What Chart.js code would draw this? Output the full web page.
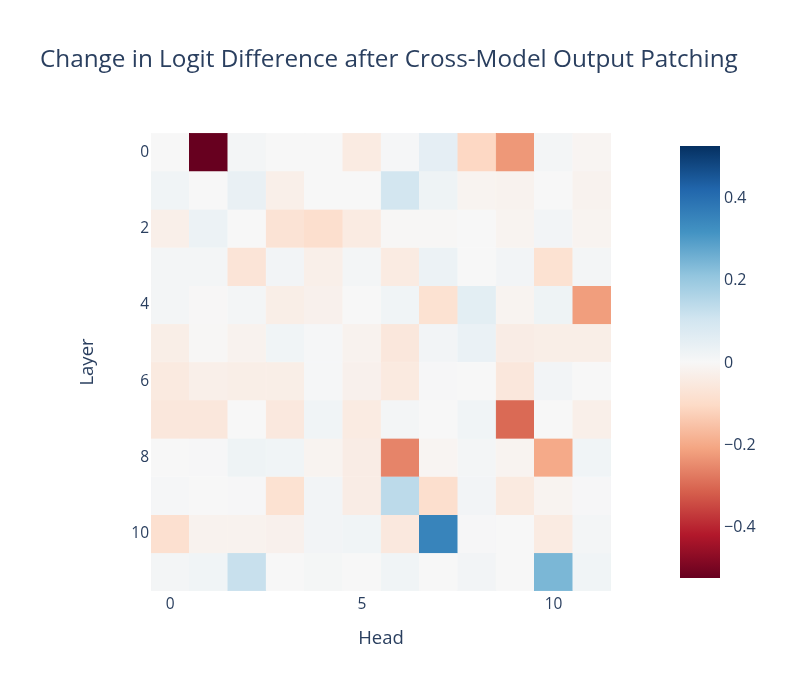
<!DOCTYPE html>
<html>
<head>
<meta charset="utf-8">
<script src="https://cdn.jsdelivr.net/npm/chart.js@4.4.1/dist/chart.umd.min.js"></script>
<style>
  html, body { margin: 0; padding: 0; background: #fff; }
  #wrap { width: 797px; height: 698px; position: relative; }
</style>
</head>
<body>
<div id="wrap"><canvas id="c" width="797" height="698"></canvas></div>
<script>
// ---- data ----
const chartTitle = "Change in Logit Difference after Cross-Model Output Patching";
const heads = [0,1,2,3,4,5,6,7,8,9,10,11];
const layers = [0,1,2,3,4,5,6,7,8,9,10,11];
const layer0  = [0.000, -0.525, 0.010, 0.000, 0.000, -0.045, 0.005, 0.050, -0.110, -0.230, 0.010, -0.010];
const layer1  = [0.020, 0.000, 0.040, -0.030, 0.000, 0.000, 0.100, 0.025, -0.015, -0.020, 0.000, -0.020];
const layer2  = [-0.030, 0.030, 0.000, -0.075, -0.090, -0.045, -0.005, -0.005, 0.000, -0.015, 0.015, -0.015];
const layer3  = [0.010, 0.010, -0.070, 0.015, -0.030, 0.010, -0.045, 0.030, 0.000, 0.015, -0.080, 0.010];
const layer4  = [0.010, -0.003, 0.010, -0.035, -0.025, 0.000, 0.020, -0.080, 0.055, -0.015, 0.025, -0.220];
const layer5  = [-0.035, -0.005, -0.020, 0.020, 0.005, -0.020, -0.060, 0.015, 0.035, -0.040, -0.035, -0.035];
const layer6  = [-0.050, -0.030, -0.035, -0.035, 0.005, -0.025, -0.050, 0.003, 0.000, -0.060, 0.015, 0.000];
const layer7  = [-0.060, -0.060, 0.000, -0.055, 0.020, -0.045, 0.010, 0.000, 0.020, -0.300, 0.000, -0.030];
const layer8  = [0.000, 0.003, 0.025, 0.020, -0.015, -0.040, -0.260, -0.010, 0.010, -0.015, -0.200, 0.020];
const layer9  = [0.005, 0.000, 0.003, -0.080, 0.015, -0.040, 0.140, -0.090, 0.015, -0.050, -0.015, 0.003];
const layer10 = [-0.085, -0.020, -0.020, -0.025, 0.015, 0.020, -0.055, 0.350, 0.003, 0.000, -0.045, 0.010];
const layer11 = [0.010, 0.020, 0.120, 0.000, 0.008, 0.000, 0.020, 0.000, 0.015, 0.000, 0.240, 0.020];
const layerRows = [layer0, layer1, layer2, layer3, layer4, layer5, layer6, layer7, layer8, layer9, layer10, layer11];
const zMin = -0.525, zMax = 0.525;
const colorbarTicks = [0.4, 0.2, 0, -0.2, -0.4];
const xTickLabels = ["0", "5", "10"];
const yTickValues = [0, 2, 4, 6, 8, 10];

// ---- colour scale (RdBu) ----
const rdbu = [[103,0,31],[178,24,43],[214,96,77],[244,165,130],[253,219,199],[247,247,247],
              [209,229,240],[146,197,222],[67,147,195],[33,102,172],[5,48,97]];
function colorFor(v) {
  let t = (v - zMin) / (zMax - zMin);
  t = Math.max(0, Math.min(1, t));
  const p = t * (rdbu.length - 1);
  const i = Math.min(rdbu.length - 2, Math.floor(p));
  const f = p - i;
  const a = rdbu[i], b = rdbu[i + 1];
  return `rgb(${Math.round(a[0]+(b[0]-a[0])*f)},${Math.round(a[1]+(b[1]-a[1])*f)},${Math.round(a[2]+(b[2]-a[2])*f)})`;
}

const FONT = "'Open Sans', 'Noto Sans', sans-serif";
const TXT = "#2a3f5f";

const datasets = layerRows.map((row, li) => ({
  label: "Layer " + layers[li],
  data: heads.map(() => 1),
  backgroundColor: row.map(colorFor),
  borderColor: row.map(colorFor),
  borderWidth: 0.5,
  borderSkipped: false,
  barPercentage: 1.0,
  categoryPercentage: 1.0,
  stack: "s"
}));

const CB = { left: 680, right: 720, top: 146, bottom: 578 };

const decorPlugin = {
  id: "decor",
  afterDraw(chart) {
    const ctx = chart.ctx;
    ctx.save();
    // title
    ctx.fillStyle = TXT;
    ctx.textBaseline = "alphabetic";
    ctx.textAlign = "left";
    ctx.font = "24.3px " + FONT;
    ctx.fillText(chartTitle, 40, 67);
    // colorbar
    const g = ctx.createLinearGradient(0, CB.bottom, 0, CB.top);
    rdbu.forEach((c, i) => g.addColorStop(i / (rdbu.length - 1), `rgb(${c[0]},${c[1]},${c[2]})`));
    ctx.fillStyle = g;
    ctx.fillRect(CB.left, CB.top, CB.right - CB.left, CB.bottom - CB.top);
    ctx.font = "16px " + FONT;
    ctx.fillStyle = TXT;
    ctx.textAlign = "left";
    ctx.textBaseline = "middle";
    colorbarTicks.forEach(v => {
      const y = CB.bottom - (v - zMin) / (zMax - zMin) * (CB.bottom - CB.top);
      const s = v === 0 ? "0" : (v < 0 ? "\u2212" + Math.abs(v).toFixed(1) : v.toFixed(1));
      ctx.fillText(s, CB.right + 4, y + 1);
    });
    ctx.restore();
  }
};

new Chart(document.getElementById("c"), {
  type: "bar",
  data: { labels: heads.map(String), datasets },
  options: {
    responsive: false,
    animation: false,
    events: [],
    layout: { padding: { left: 70, right: 186, top: 133, bottom: 30 } },
    plugins: { legend: { display: false }, tooltip: { enabled: false }, title: { display: false } },
    scales: {
      x: {
        stacked: true,
        grid: { display: false, drawTicks: false },
        border: { display: false },
        ticks: {
          autoSkip: false, maxRotation: 0, padding: 4,
          color: TXT, font: { family: FONT, size: 15.5 },
          callback: function(v) { const l = this.getLabelForValue(v); return xTickLabels.includes(l) ? l : ""; }
        },
        title: { display: true, text: "Head", color: TXT, font: { family: FONT, size: 18.5 }, padding: { top: 0, bottom: 18 } },
        afterFit(s) { s.height = 698 - 30 - 591; }
      },
      y: {
        stacked: true,
        reverse: true,
        min: 0, max: 12,
        grid: { display: false, drawTicks: false },
        border: { display: false },
        afterBuildTicks(s) { s.ticks = yTickValues.map(v => ({ value: v + 0.5 })); },
        ticks: {
          padding: 2, color: TXT, font: { family: FONT, size: 15.5 },
          callback: (v) => String(Math.round(v - 0.5))
        },
        title: { display: true, text: "Layer", color: TXT, font: { family: FONT, size: 18.5 }, padding: { top: 7 } },
        afterFit(s) { s.width = 151 - 70; }
      }
    }
  },
  plugins: [decorPlugin]
});
</script>
</body>
</html>
